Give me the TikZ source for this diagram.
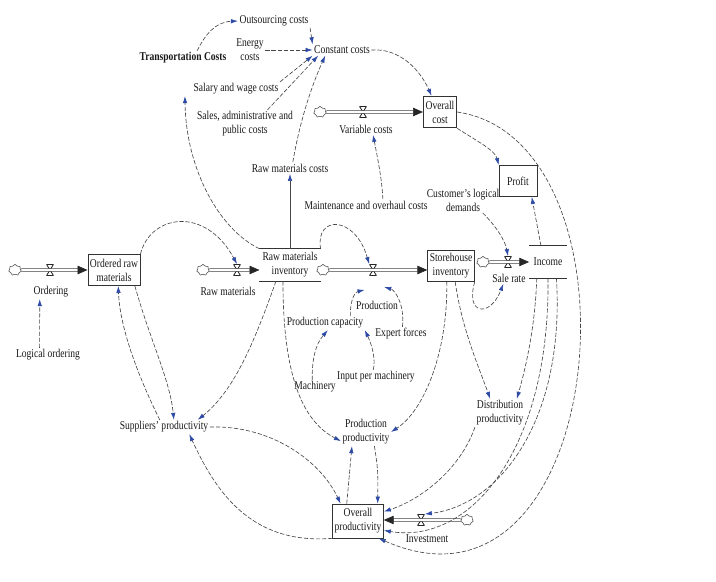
\documentclass[tikz,border=0pt]{standalone}
\usepackage{fontspec}
\setmainfont[FakeStretch=0.8]{Liberation Serif}
\usepackage{tikz}
\usetikzlibrary{positioning, arrows.meta, shapes.symbols}
\definecolor{tipblue}{RGB}{45,75,165}
\definecolor{linegray}{RGB}{70,70,70}

\begin{document}
\begin{tikzpicture}[
        x=0.025cm, y=-0.025cm,
        every node/.style={font=\fontsize{8.5}{10}\selectfont, align=center, inner sep=1pt, text=black!90},
        stock/.style={rectangle, draw=black!80, line width=0.5pt, minimum height=0.78cm, inner sep=1.5pt},
        openstock/.style={rectangle, minimum height=0.8cm, inner sep=2pt},
        valve/.style={minimum width=5pt, minimum height=8pt, inner sep=0pt,
            path picture={\draw[black!85, line width=0.6pt] (path picture bounding box.north west) -- (path picture bounding box.north east) -- (path picture bounding box.south west) -- (path picture bounding box.south east) -- cycle;}},
        source/.style={cloud, cloud puffs=7, aspect=1, draw=black!70, minimum width=9pt, minimum height=8pt, inner sep=0pt},
        pipe/.style={draw=black!85, double=white, double distance=1.5pt, line width=0.45pt, -{Triangle[length=7pt,width=6pt]}},
        link/.style={draw=linegray, line width=0.45pt, dash pattern=on 3pt off 1.3pt, -{Latex[length=5pt,width=3.2pt,color=tipblue]}}
    ]
    \useasboundingbox (0,0) rectangle (716,582);

    % stocks
    \node[stock] (ordered) at (114,270) {Ordered raw\\materials};
    \node[openstock] (rawinv) at (290,265) {Raw materials\\inventory};
    \node[stock] (store) at (451,266) {Storehouse\\inventory};
    \node[openstock, minimum width=0.93cm] (income) at (548,262) {Income};
    \node[stock, minimum width=0.95cm] (profit) at (518,181) {Profit};
    \node[stock, line width=0.9pt] (overallcost) at (440,112) {Overall\\cost};
    \node[stock, minimum height=0.85cm] (overallprod) at (358,521) {Overall\\productivity};
    \draw[black!80] (rawinv.north west) -- (rawinv.north east) (rawinv.south west) -- (rawinv.south east);
    \draw[black!80] (income.north west) -- (income.north east) (income.south west) -- (income.south east);

    % flows
    \node[source] (ordercloud) at (15,270) {};
    \node[valve] (ordervalve) at (50,270) {};
    \node (ordering) at (51,292) {Ordering};
    \node[source] (rawcloud) at (203,270) {};
    \node[valve] (rawvalve) at (237,270) {};
    \node (rawmat) at (228,291) {Raw materials};
    \node[source] (prodcloud) at (323,270) {};
    \node[valve] (prodvalve) at (373,270) {};
    \node (production) at (377,305) {Production};
    \node[source] (salecloud) at (483,262) {};
    \node[valve] (salevalve) at (508,262) {};
    \node (salerate) at (509,278) {Sale rate};
    \node[source] (varcloud) at (320,112) {};
    \node[valve] (varvalve) at (363,112) {};
    \node (variablecosts) at (366,129) {Variable costs};
    \node[source] (invcloud) at (467,520) {};
    \node[valve] (invvalve) at (421,520) {};
    \node (investment) at (427,539) {Investment};

    \draw[pipe] (ordercloud) -- (ordered);
    \draw[pipe] (rawcloud) -- (rawcloud -| rawinv.west);
    \draw[pipe] (prodcloud) -- (prodcloud -| store.west);
    \draw[pipe] (salecloud) -- (income);
    \draw[pipe] (varcloud) -- (overallcost);
    \draw[pipe] (invcloud) -- (invcloud -| overallprod.east);

    % auxiliaries
    \node (logical) at (48,355) {Logical ordering};
    \node (suppliers) at (164,427) {Suppliers' productivity};
    \node (transport) at (183,58) {\bfseries Transportation Costs};
    \node (outsourcing) at (274,21) {Outsourcing costs};
    \node (energy) at (250,50) {Energy\\costs};
    \node (constant) at (342,50) {Constant costs};
    \node (salary) at (236,89) {Salary and wage costs};
    \node (sales) at (245,124) {Sales, administrative and\\public costs};
    \node (rawcosts) at (290,168) {Raw materials costs};
    \node (maint) at (366,205) {Maintenance and overhaul costs};
    \node (custdem) at (463,200) {Customer's logical\\demands};
    \node (prodcap) at (325,323) {Production capacity};
    \node (expert) at (401,334) {Expert forces};
    \node (inputpm) at (376,377) {Input per machinery};
    \node (machinery) at (315,387) {Machinery};
    \node (prodprod) at (366,432) {Production\\productivity};
    \node (distprod) at (500,413) {Distribution\\productivity};

    % cost links
    \draw[link] ([xshift=10pt]transport.north) .. controls (205,35) and (215,22) .. (outsourcing.west);
    \draw[link] (outsourcing.south east) -- (constant.north west);
    \draw[link] (energy.east) -- (constant.west);
    \draw[link] (salary.north east) -- (constant.south west);
    \draw[link] ([xshift=16pt]sales.north) -- ([xshift=4pt]constant.south west);
    \draw[link] ([xshift=2pt]rawcosts.north) .. controls (300,120) and (312,85) .. ([xshift=9pt]constant.south west);
    \draw[link] (constant.east) .. controls (400,48) and (420,70) .. ([xshift=-6pt]overallcost.north);
    \draw[link] ([xshift=12pt]maint.north) .. controls (382,180) and (378,160) .. ([xshift=5pt]variablecosts.south);
    \draw[link] (overallcost.south east) .. controls (475,140) and (495,150) .. (profit.north west);
    \draw[link] ([xshift=-5pt]income.north) -- ([xshift=-4pt]profit.south east);

    % inventory links
    \draw[link] ([xshift=-6pt]logical.north) -- ([xshift=-8pt]ordering.south);
    \draw[link] ([xshift=-3pt]suppliers.north) .. controls (140,380) and (120,330) .. ([xshift=3pt]ordered.south);
    \draw[link] ([xshift=-4pt]ordered.south east) .. controls (150,340) and (170,380) .. ([xshift=7pt]suppliers.north);
    \draw[link] (ordered.north east) .. controls (150,215) and (205,205) .. (rawvalve.north);
    \draw[link] (rawinv.north west) .. controls (220,230) and (186,170) .. ([xshift=-5pt]salary.south west);
    \draw[link, solid] (rawinv.north) -- (rawcosts.south);
    \draw[link] (rawinv.north east) .. controls (315,215) and (355,215) .. (prodvalve.north west);
    \draw[link] ([xshift=-10pt]rawinv.south) .. controls (255,340) and (235,390) .. ([xshift=24pt]suppliers.north);
    \draw[link] ([xshift=-5pt]rawinv.south) .. controls (283,370) and (300,420) .. (prodprod.200);
    \draw[link] ([xshift=-3pt]store.south) .. controls (448,350) and (425,410) .. (prodprod.east);
    \draw[link] ([xshift=3pt]store.south) .. controls (462,330) and (480,370) .. ([xshift=-7pt]distprod.north);
    \draw[link] (store.south east) .. controls (465,315) and (490,318) .. ([xshift=-4pt]salerate.south);
    \draw[link] ([xshift=14pt]custdem.south) .. controls (495,225) and (505,240) .. (salevalve.north);

    % production links
    \draw[link] ([xshift=18pt]prodcap.north) .. controls (350,300) and (355,292) .. ([xshift=-6pt,yshift=-10pt]prodvalve.south);
    \draw[link] ([xshift=1pt]expert.north) .. controls (405,305) and (395,290) .. ([xshift=8pt,yshift=-8pt]prodvalve.south);
    \draw[link] ([xshift=-2pt]machinery.north) .. controls (312,360) and (315,345) .. ([xshift=2pt]prodcap.south);
    \draw[link] ([xshift=-2pt]inputpm.north) .. controls (376,360) and (372,345) .. (prodcap.south east);

    % productivity links
    \draw[link] ([xshift=-8pt]overallprod.north) -- ([xshift=-10pt]prodprod.south);
    \draw[link] ([xshift=6pt]prodprod.south) .. controls (378,470) .. ([xshift=14pt]overallprod.north);
    \draw[link] (suppliers.east) .. controls (270,425) and (320,460) .. ([xshift=6pt]overallprod.north west);
    \draw[link] (overallprod.south west) .. controls (250,545) and (215,490) .. ([xshift=18pt]suppliers.south);
    \draw[link] ([xshift=-8pt]income.south) .. controls (535,330) and (525,370) .. ([xshift=12pt]distprod.north);
    \draw[link] (distprod.south west) .. controls (460,470) and (420,500) .. (overallprod.20);
    \draw[link] ([xshift=6pt]income.south) .. controls (565,420) and (500,505) .. (invvalve.north east);
    \draw[link] (income.south) .. controls (550,450) and (470,545) .. (overallprod.-20);
    \draw[link] (overallcost.east) .. controls (650,140) and (610,640) .. (overallprod.-40);
\end{tikzpicture}
\end{document}
